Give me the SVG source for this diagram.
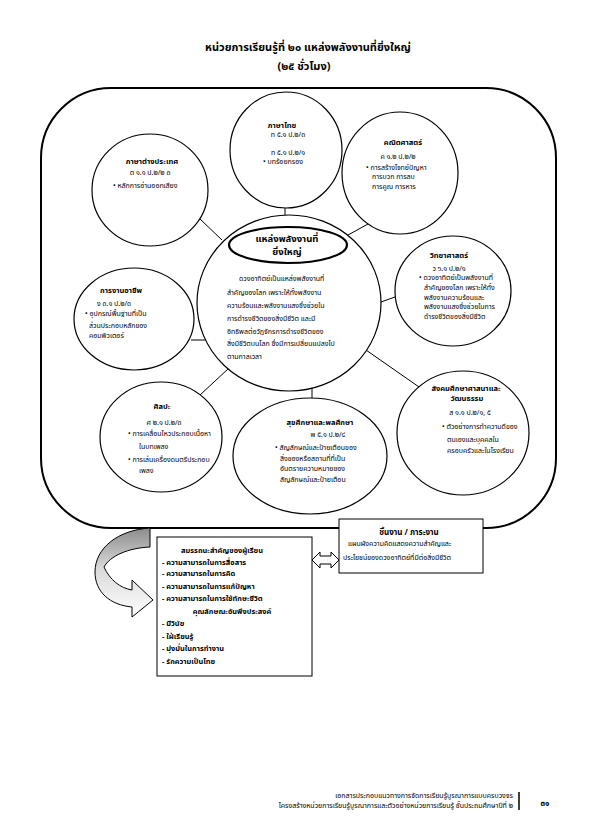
<svg xmlns="http://www.w3.org/2000/svg" width="595" height="836" viewBox="0 0 595 836">
<style>
text{font-family:"Noto Sans Thai","Noto Serif Thai","Garuda","Loma","Norasi","Tlwg Typo","Noto Sans","DejaVu Sans",sans-serif;fill:#000}
.s{font-size:7px}
.h{font-size:7.5px;font-weight:bold}
.m{text-anchor:middle}
.e{text-anchor:end}
.node ellipse{fill:#fff;stroke:#000;stroke-width:1.2}
.bx{fill:#fff;stroke:#000;stroke-width:1}
.conn line{stroke:#000;stroke-width:1}
.bl{font-size:7.4px;font-weight:bold}
.tt{font-size:11px;font-weight:bold}
</style>
<defs>
<linearGradient id="gr" x1="0" y1="0" x2="0" y2="1">
<stop offset="0" stop-color="#8c8c8c"/>
<stop offset="0.45" stop-color="#d9d9d9"/>
<stop offset="1" stop-color="#ffffff"/>
</linearGradient>
</defs>
<rect width="595" height="836" fill="#fff"/>
<g id="title">
<text x="308" y="51" class="tt m">หน่วยการเรียนรู้ที่ ๒๐ แหล่งพลังงานที่ยิ่งใหญ่</text>
<text x="304" y="70" class="tt m">(๒๕ ชั่วโมง)</text>
</g>
<rect id="frame" x="41" y="88" width="515" height="440" rx="70" ry="70" fill="none" stroke="#000" stroke-width="2"/>
<g id="connectors" class="conn">
<line x1="285" y1="208" x2="285" y2="215"/>
<line x1="200" y1="219" x2="222" y2="240"/>
<line x1="348" y1="235" x2="368" y2="224"/>
<line x1="381" y1="302" x2="395" y2="297"/>
<line x1="191" y1="340" x2="206" y2="340"/>
<line x1="200" y1="395" x2="228" y2="369"/>
<line x1="312" y1="388" x2="312" y2="398"/>
<line x1="366" y1="350" x2="419" y2="387"/>
</g>
<g id="thai" class="node">
<ellipse cx="286" cy="150" rx="56" ry="58"/>
<text x="282" y="128" class="h m">ภาษาไทย</text>
<text x="288" y="137" class="s m">ท ๕.๑ ป.๒/๓</text>
<text x="288" y="155" class="s m">ท ๕.๑ ป.๒/๑</text>
<text x="263" y="164" class="s">• บทร้อยกรอง</text>
</g>
<g id="foreign" class="node">
<ellipse cx="150" cy="190" rx="58" ry="56"/>
<text x="152" y="164" class="h m">ภาษาต่างประเทศ</text>
<text x="150" y="175" class="s m">ต ๑.๑ ป.๒/๒    ๓</text>
<text x="113" y="188" class="s">• หลักการอ่านออกเสียง</text>
</g>
<g id="math" class="node">
<ellipse cx="400" cy="173" rx="58" ry="61"/>
<text x="403" y="145" class="h m">คณิตศาสตร์</text>
<text x="398" y="159" class="s m">ค ๑.๒ ป.๒/๒</text>
<text x="366" y="170" class="s">• การสร้างโจทย์ปัญหา</text>
<text x="372" y="179" class="s">การบวก การลบ</text>
<text x="372" y="189" class="s">การคูณ การหาร</text>
</g>
<g id="center" class="node">
<ellipse cx="289" cy="303" rx="92" ry="88"/>
<ellipse cx="288" cy="245" rx="59" ry="18" style="stroke-width:2.2"/>
<text x="287" y="242" class="m" style="font-size:9.5px;font-weight:bold">แหล่งพลังงานที่</text>
<text x="287" y="255" class="m" style="font-size:9.5px;font-weight:bold">ยิ่งใหญ่</text>
<text x="239" y="281" class="s">ดวงอาทิตย์เป็นแหล่งพลังงานที่</text>
<text x="227" y="295" class="s">สำคัญของโลก เพราะให้ทั้งพลังงาน</text>
<text x="227" y="308" class="s">ความร้อนและพลังงานแสงซึ่งช่วยใน</text>
<text x="227" y="321" class="s">การดำรงชีวิตของสิ่งมีชีวิต และมี</text>
<text x="227" y="334" class="s">อิทธิพลต่อวัฏจักรการดำรงชีวิตของ</text>
<text x="227" y="346" class="s">สิ่งมีชีวิตบนโลก ซึ่งมีการเปลี่ยนแปลงไป</text>
<text x="227" y="359" class="s">ตามกาลเวลา</text>
</g>
<g id="science" class="node">
<ellipse cx="453" cy="291" rx="58" ry="55"/>
<text x="449" y="258" class="h m">วิทยาศาสตร์</text>
<text x="449" y="271" class="s m">ว ๖.๑ ป.๒/๑</text>
<text x="419" y="280" class="s">• ดวงอาทิตย์เป็นพลังงานที่</text>
<text x="424" y="290" class="s">สำคัญของโลก เพราะให้ทั้ง</text>
<text x="424" y="300" class="s">พลังงานความร้อนและ</text>
<text x="424" y="309" class="s">พลังงานแสงซึ่งช่วยในการ</text>
<text x="424" y="319" class="s">ดำรงชีวิตของสิ่งมีชีวิต</text>
</g>
<g id="career" class="node">
<ellipse cx="134" cy="319" rx="60" ry="51"/>
<text x="121" y="293" class="h m">การงานอาชีพ</text>
<text x="114" y="306" class="s m">ง ๓.๑ ป.๒/๓</text>
<text x="85" y="316" class="s">• อุปกรณ์พื้นฐานที่เป็น</text>
<text x="89" y="328" class="s">ส่วนประกอบหลักของ</text>
<text x="89" y="338" class="s">คอมพิวเตอร์</text>
</g>
<g id="art" class="node">
<ellipse cx="161" cy="437" rx="61" ry="55"/>
<text x="162" y="409" class="h m">ศิลปะ</text>
<text x="164" y="425" class="s m">ศ ๒.๑ ป.๒/๓</text>
<text x="128" y="436" class="s">• การเคลื่อนไหวประกอบเนื้อหา</text>
<text x="139" y="449" class="s">ในบทเพลง</text>
<text x="128" y="462" class="s">• การเล่นเครื่องดนตรีประกอบ</text>
<text x="139" y="473" class="s">เพลง</text>
</g>
<g id="health" class="node">
<ellipse cx="310" cy="456" rx="77" ry="58"/>
<text x="320" y="425" class="h m">สุขศึกษาและพลศึกษา</text>
<text x="328" y="437" class="s m">พ ๕.๑ ป.๒/๔</text>
<text x="275" y="450" class="s">• สัญลักษณ์และป้ายเตือนของ</text>
<text x="280" y="461" class="s">สิ่งของหรือสถานที่ที่เป็น</text>
<text x="280" y="471" class="s">อันตรายความหมายของ</text>
<text x="280" y="482" class="s">สัญลักษณ์และป้ายเตือน</text>
</g>
<g id="social" class="node">
<ellipse cx="463" cy="433" rx="66" ry="62"/>
<text x="466" y="391" class="h m">สังคมศึกษาศาสนาและ</text>
<text x="467" y="401" class="h m">วัฒนธรรม</text>
<text x="470" y="415" class="s m">ส ๑.๑ ป.๒/๑, ๕</text>
<text x="442" y="429" class="s">• ตัวอย่างการทำความดีของ</text>
<text x="447" y="442" class="s">ตนเองและบุคคลใน</text>
<text x="447" y="453" class="s">ครอบครัวและในโรงเรียน</text>
</g>
<path id="curved-arrow" d="M150,528 L150,547 C128,548 110,556 104,567 C110,580 120,588 132,590 L132,580 L153,600 L132,617 L132,607 C110,605 95,592 95,572 C95,548 118,530 150,528 Z" fill="url(#gr)" stroke="#000" stroke-width="1"/>
<g id="competency">
<rect x="157" y="537" width="155" height="139" class="bx"/>
<text x="222" y="553" class="bl m">สมรรถนะสำคัญของผู้เรียน</text>
<text x="162" y="565" class="bl">- ความสามารถในการสื่อสาร</text>
<text x="162" y="576" class="bl">- ความสามารถในการคิด</text>
<text x="162" y="589" class="bl">- ความสามารถในการแก้ปัญหา</text>
<text x="162" y="601" class="bl">- ความสามารถในการใช้ทักษะชีวิต</text>
<text x="232" y="614" class="bl m">คุณลักษณะอันพึงประสงค์</text>
<text x="162" y="626" class="bl">- มีวินัย</text>
<text x="162" y="639" class="bl">- ใฝ่เรียนรู้</text>
<text x="162" y="651" class="bl">- มุ่งมั่นในการทำงาน</text>
<text x="162" y="664" class="bl">- รักความเป็นไทย</text>
</g>
<g id="task">
<rect x="339" y="519" width="144" height="54" class="bx"/>
<text x="409" y="535" class="h m" style="font-size:8px">ชิ้นงาน / ภาระงาน</text>
<text x="348" y="546" class="s">แผนผังความคิดแสดงความสำคัญและ</text>
<text x="343" y="560" class="s">ประโยชน์ของดวงอาทิตย์ที่มีต่อสิ่งมีชีวิต</text>
</g>
<path id="double-arrow" d="M312,560 L320,552 L320,556 L331,556 L331,552 L339,560 L331,568 L331,564 L320,564 L320,568 Z" fill="#fff" stroke="#000" stroke-width="1"/>
<g id="footer">
<text x="513" y="798" class="s e">เอกสารประกอบแนวทางการจัดการเรียนรู้บูรณาการแบบครบวงจร</text>
<text x="513" y="808" class="s e">โครงสร้างหน่วยการเรียนรู้บูรณาการและตัวอย่างหน่วยการเรียนรู้ ชั้นประถมศึกษาปีที่ ๒</text>
<line x1="519" y1="792" x2="519" y2="810" stroke="#000" stroke-width="1.5"/>
<text x="545" y="806" class="m" style="font-size:8px;font-weight:bold">๓๑</text>
</g>
</svg>
